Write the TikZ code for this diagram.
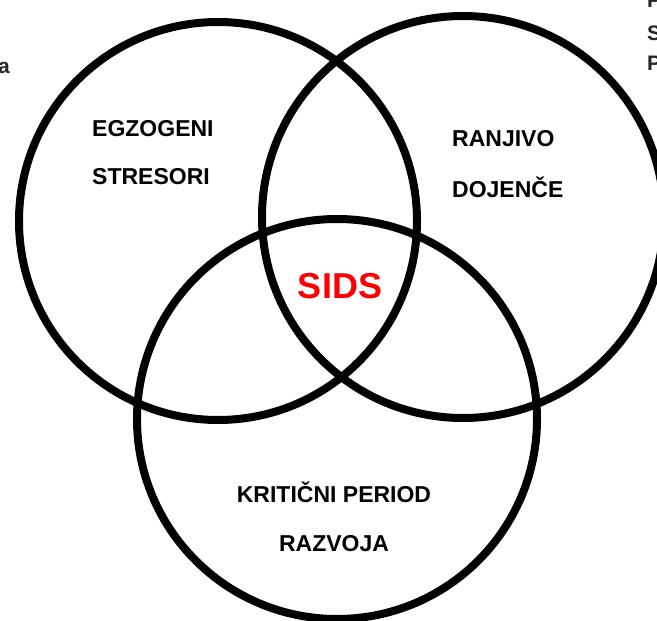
\documentclass[tikz,border=0pt]{standalone}
\usepackage{fontspec}
\setmainfont{Liberation Sans}
\begin{document}
\begin{tikzpicture}[x=1pt,y=-1pt,
  ring/.style={draw=black,line width=8pt},
  lbl/.style={font=\fontsize{23}{23}\selectfont\bfseries,text=black,inner sep=0pt},
  edgelbl/.style={font=\fontsize{21}{21}\selectfont\bfseries,text=black!85,inner sep=0pt}]
\useasboundingbox (0,0) rectangle (657,621);
\clip (0,0) rectangle (657,621);
\fill[white] (0,0) rectangle (657,621);
% circles
\node[ring,circle,minimum size=398pt,inner sep=0pt] (left) at (218,221) {};
\node[ring,circle,minimum size=402pt,inner sep=0pt] (right) at (463,217) {};
\node[ring,circle,minimum size=400pt,inner sep=0pt] (bottom) at (337,419) {};
% labels
\node[lbl,anchor=base west] (egz) at (92,136) {EGZOGENI};
\node[lbl,anchor=base west] (str) at (92,184) {STRESORI};
\node[lbl,anchor=base west] (ran) at (452,146) {RANJIVO};
\node[lbl,anchor=base west] (doj) at (452,197) {DOJENČE};
\node[lbl,anchor=base] (krit) at (334,502) {KRITIČNI PERIOD};
\node[lbl,anchor=base] (raz) at (334,551) {RAZVOJA};
\node[font=\fontsize{36}{36}\selectfont\bfseries,text=red,inner sep=0pt,anchor=base] (sids) at (340,298) {SIDS};
% cut-off edge texts
\node[edgelbl,anchor=base east] (ea) at (10,73) {a};
\node[edgelbl,anchor=base west] (ep1) at (647,8) {P};
\node[edgelbl,anchor=base west] (es) at (647,41) {S};
\node[edgelbl,anchor=base west] (ep2) at (647,70) {P};
\end{tikzpicture}
\end{document}
